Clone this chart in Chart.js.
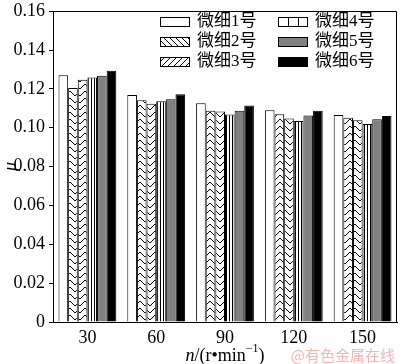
<!DOCTYPE html>
<html>
<head>
<meta charset="utf-8">
<script src="https://cdn.jsdelivr.net/npm/chart.js@4.4.1/dist/chart.umd.min.js"></script>
<style>
    body { margin: 0; background: #fff; }
    #chartMu { display: block; }
</style>
</head>
<body>
<canvas id="chartMu" width="400" height="364"></canvas>
<script>
// rotation speed n (r/min)
var categories = ['30', '60', '90', '120', '150'];
var names = ['微细1号', '微细2号', '微细3号', '微细4号', '微细5号', '微细6号'];

// friction coefficient, one list per sample
var fine1 = [0.1270, 0.1168, 0.1126, 0.1090, 0.1065];
var fine2 = [0.1205, 0.1141, 0.1088, 0.1069, 0.1051];
var fine3 = [0.1247, 0.1124, 0.1084, 0.1048, 0.1039];
var fine4 = [0.1259, 0.1136, 0.1068, 0.1035, 0.1019];
var fine5 = [0.1268, 0.1147, 0.1087, 0.1063, 0.1044];
var fine6 = [0.1293, 0.1172, 0.1114, 0.1087, 0.1061];

var yMax = 0.16;
var yStep = 0.02;

var serif = '"Liberation Serif", "Times New Roman", "Noto Sans CJK SC", serif';

function tile(w, h, draw) {
    var c = document.createElement('canvas');
    c.width = w;
    c.height = h;
    var t = c.getContext('2d');
    t.fillStyle = '#fff';
    t.fillRect(0, 0, w, h);
    t.strokeStyle = '#000';
    t.lineWidth = 1;
    draw(t, w, h);
    return document.createElement('canvas').getContext('2d').createPattern(c, 'repeat');
}

// herringbone look of the bars
function chevron(up) {
    return tile(10, 7, function (t, w, h) {
        for (var k = -1; k <= 1; k++) {
            var o = k * h;
            t.beginPath();
            if (up) {
                t.moveTo(0, o + 5); t.lineTo(5, o); t.lineTo(10, o + 5);
            } else {
                t.moveTo(0, o); t.lineTo(5, o + 5); t.lineTo(10, o);
            }
            t.stroke();
        }
    });
}

function diagonal(back) {
    return tile(6, 6, function (t, w, h) {
        for (var k = -1; k <= 1; k++) {
            t.beginPath();
            if (back) {
                t.moveTo(k * w, 0); t.lineTo(k * w + w, h);
            } else {
                t.moveTo(k * w, h); t.lineTo(k * w + w, 0);
            }
            t.stroke();
        }
    });
}

var stripes = tile(3, 4, function (t, w, h) {
    t.fillStyle = '#000';
    t.fillRect(1, 0, 1, h);
});

var barFills = ['#ffffff', chevron(false), chevron(true), stripes, '#808080', '#000000'];
var legendFills = ['#ffffff', diagonal(true), diagonal(false), '#ffffff', '#808080', '#000000'];
var series = [fine1, fine2, fine3, fine4, fine5, fine6];

var framePlugin = {
    id: 'frame',
    afterDraw: function (chart) {
        var ctx = chart.ctx;
        var a = chart.chartArea;
        ctx.save();
        ctx.strokeStyle = '#000';
        ctx.lineWidth = 1;
        ctx.beginPath();
        ctx.moveTo(Math.round(a.left), Math.round(a.top) + 0.5);
        ctx.lineTo(Math.round(a.right) - 0.5, Math.round(a.top) + 0.5);
        ctx.lineTo(Math.round(a.right) - 0.5, Math.round(a.bottom));
        ctx.stroke();

        // legend, two columns inside the plot
        ctx.font = '17px ' + serif;
        ctx.textBaseline = 'middle';
        ctx.fillStyle = '#000';
        for (var i = 0; i < names.length; i++) {
            var col = Math.floor(i / 3);
            var row = i % 3;
            var bx = 160 + col * 118;
            var by = 17 + row * 20;
            ctx.fillStyle = legendFills[i];
            ctx.fillRect(bx, by, 30, 10);
            ctx.strokeStyle = '#000';
            ctx.strokeRect(bx + 0.5, by + 0.5, 29, 9);
            if (i == 3) {
                ctx.beginPath();
                ctx.moveTo(bx + 10.5, by); ctx.lineTo(bx + 10.5, by + 10);
                ctx.moveTo(bx + 20.5, by); ctx.lineTo(bx + 20.5, by + 10);
                ctx.stroke();
            }
            ctx.fillStyle = '#000';
            ctx.textAlign = 'left';
            ctx.fillText(names[i], bx + 37, by + 5);
        }

        // x axis title: n/(r·min^-1)
        var cx = (a.left + a.right) / 2;
        var y = 356;
        var big = '18px ' + serif;
        var parts = [
            { t: 'n', f: 'italic ' + big, dy: 0 },
            { t: '/(r•min', f: big, dy: 0 },
            { t: '−1', f: '12px ' + serif, dy: -7 },
            { t: ')', f: big, dy: 0 }
        ];
        var total = 0;
        parts.forEach(function (p) {
            ctx.font = p.f;
            total += ctx.measureText(p.t).width;
        });
        var x = cx - total / 2;
        ctx.textAlign = 'left';
        ctx.textBaseline = 'middle';
        parts.forEach(function (p) {
            ctx.font = p.f;
            ctx.fillText(p.t, x, y + p.dy);
            x += ctx.measureText(p.t).width;
        });

        // source mark
        ctx.font = '15px "Noto Sans CJK SC", sans-serif';
        ctx.fillStyle = '#f2b6b6';
        ctx.textAlign = 'right';
        ctx.fillText('@有色金属在线', 395, 355);
        ctx.restore();
    }
};

function drawChart() {
    var ctx = document.getElementById('chartMu');
    var datasets = [];
    for (var i = 0; i < series.length; i++) {
        datasets.push({
            label: names[i],
            data: series[i],
            backgroundColor: barFills[i],
            borderColor: '#000',
            borderWidth: 1,
            categoryPercentage: 0.84,
            barPercentage: 1.0
        });
    }
    var myBarChart = new Chart(ctx, {
        type: 'bar',
        data: { labels: categories, datasets: datasets },
        options: {
            responsive: false,
            animation: false,
            devicePixelRatio: 1,
            layout: { padding: { left: 0, right: 3, top: 0, bottom: 0 } },
            plugins: {
                legend: { display: false },
                tooltip: { enabled: false }
            },
            scales: {
                x: {
                    grid: { display: false, drawTicks: false },
                    border: { display: true, color: '#000', width: 1 },
                    ticks: {
                        color: '#000',
                        padding: 5,
                        font: { family: serif, size: 18 }
                    },
                    afterFit: function (scale) { scale.height = 42; }
                },
                y: {
                    min: 0,
                    max: yMax,
                    grid: {
                        drawOnChartArea: false,
                        drawTicks: true,
                        tickLength: 4,
                        color: '#000'
                    },
                    border: { display: true, color: '#000', width: 1 },
                    ticks: {
                        stepSize: yStep,
                        color: '#000',
                        padding: 4,
                        font: { family: serif, size: 18, lineHeight: 0.8 },
                        callback: function (v) { return v == 0 ? '0' : v.toFixed(2); }
                    },
                    title: {
                        display: true,
                        text: 'μ',
                        color: '#000',
                        padding: 0,
                        font: { family: serif, size: 18, style: 'italic' }
                    },
                    afterFit: function (scale) { scale.width = 53; }
                }
            }
        },
        plugins: [framePlugin]
    });
}

drawChart();
</script>
</body>
</html>
